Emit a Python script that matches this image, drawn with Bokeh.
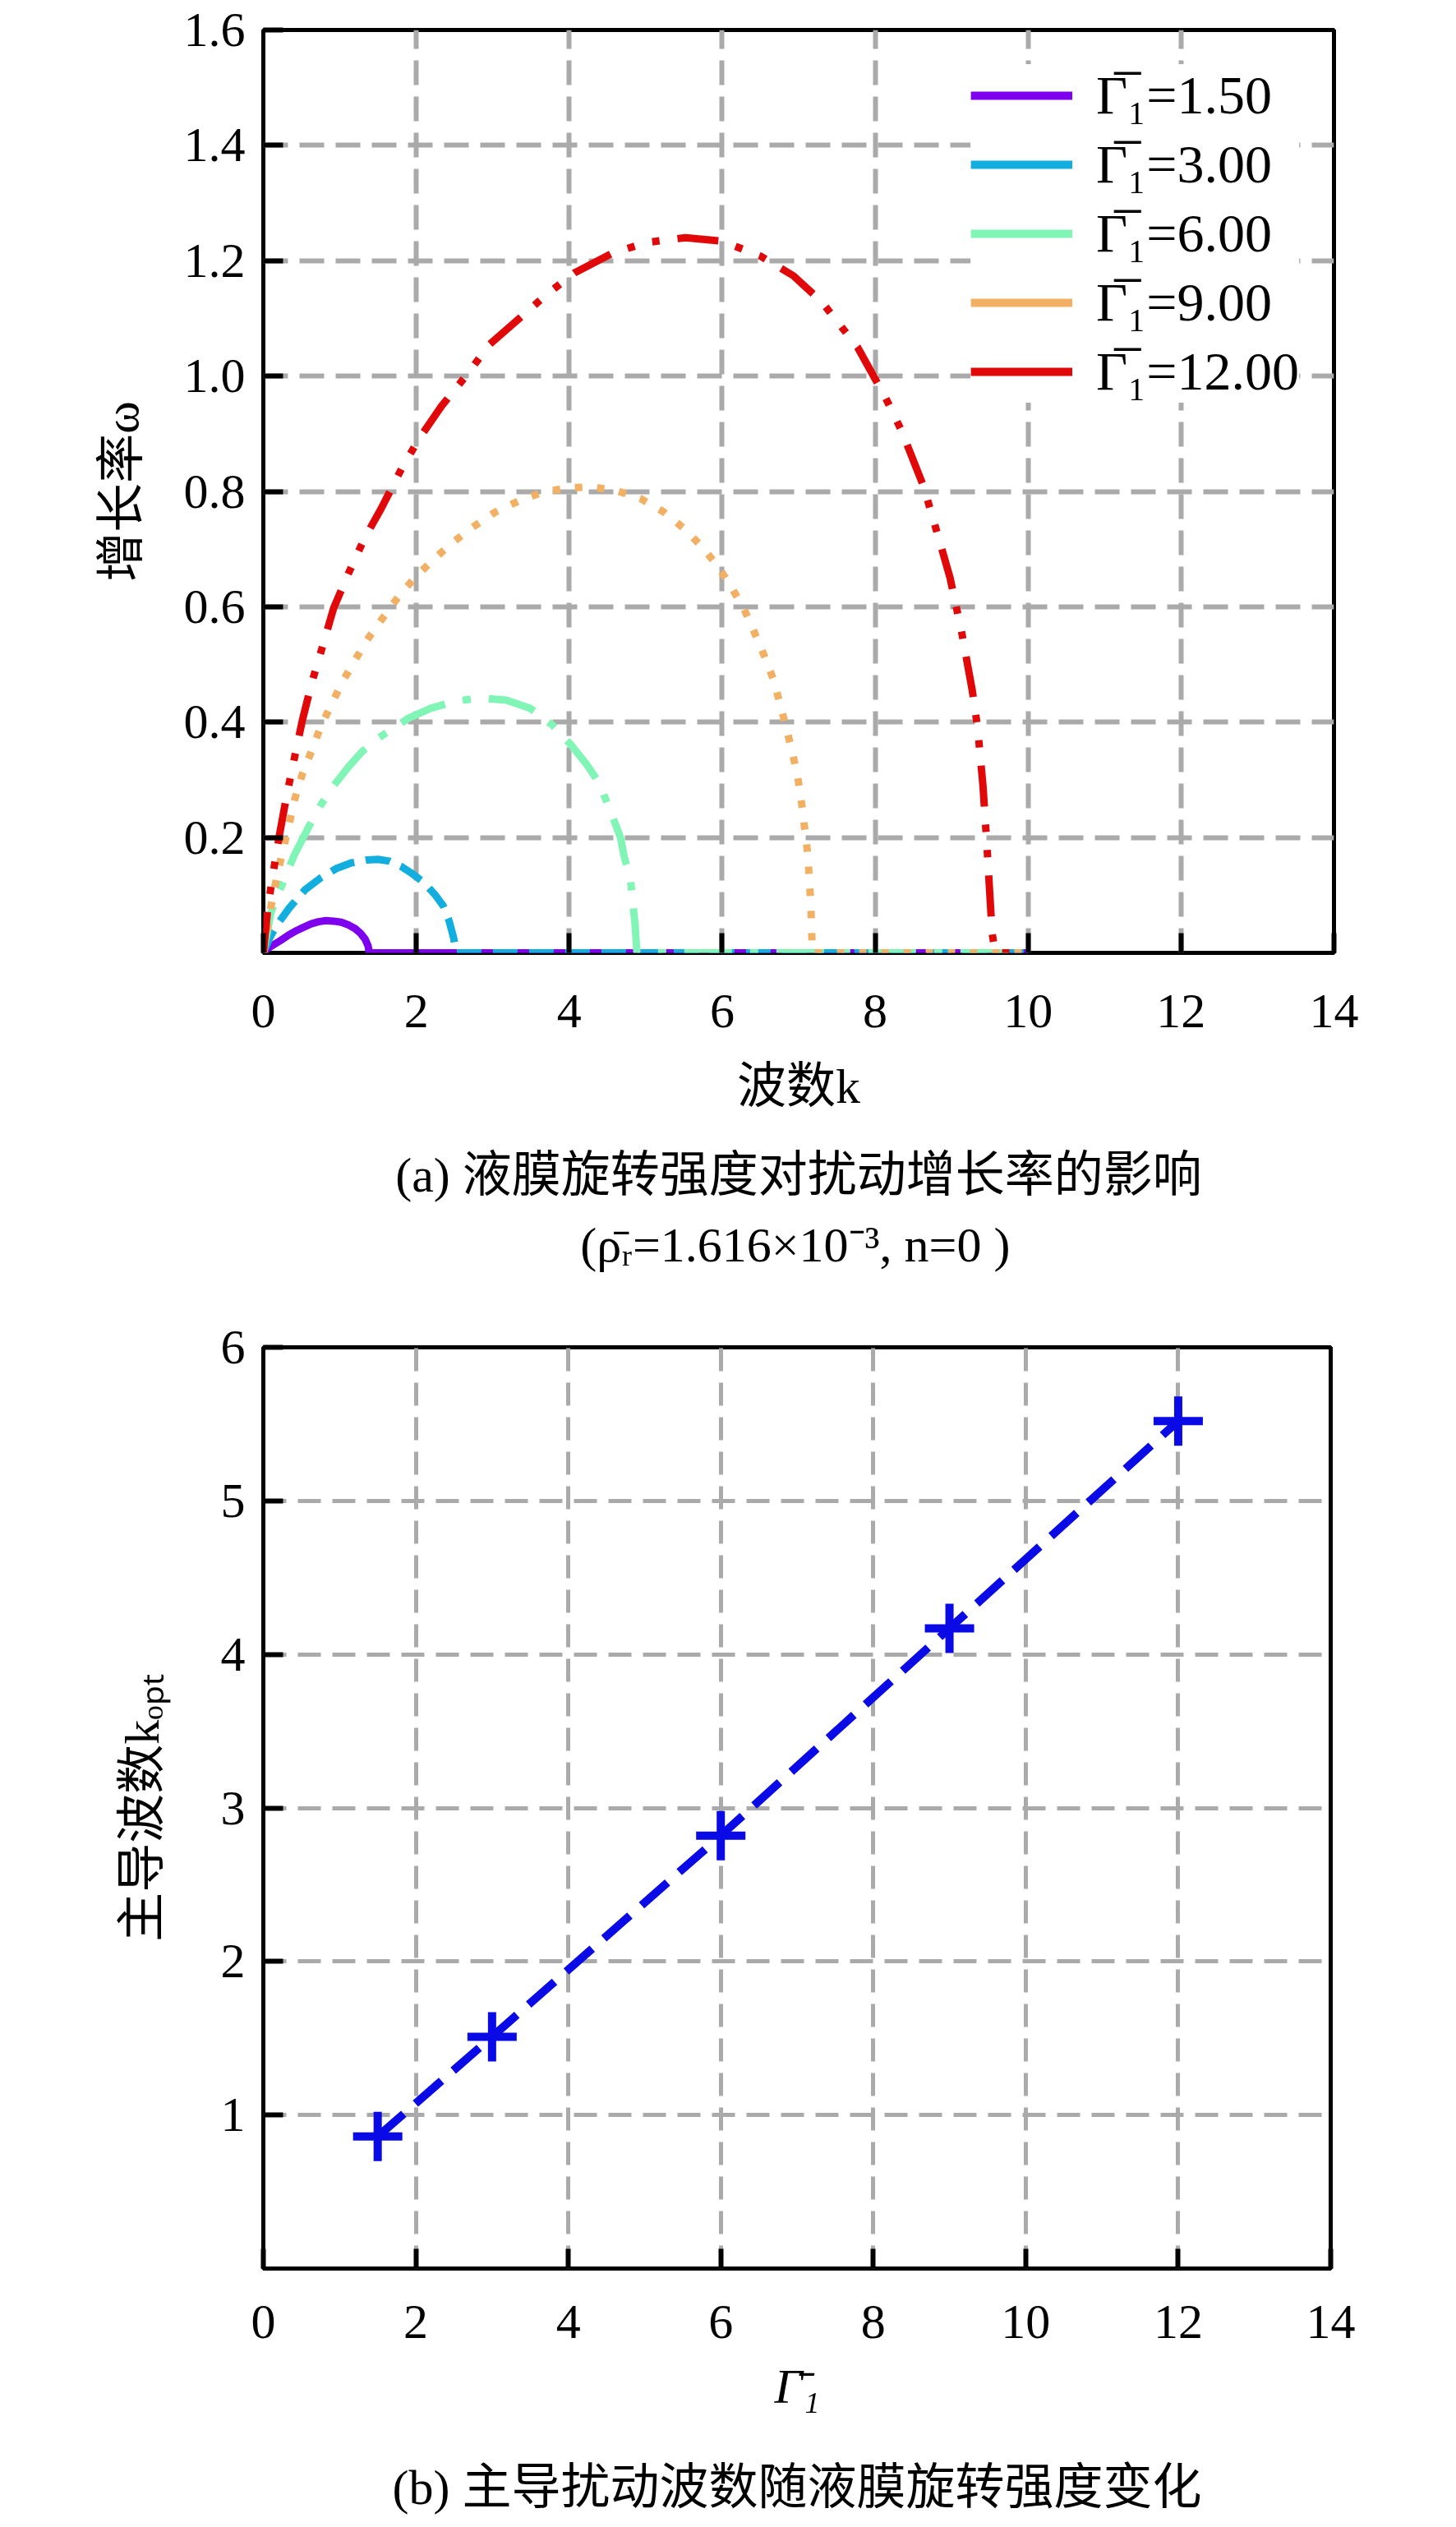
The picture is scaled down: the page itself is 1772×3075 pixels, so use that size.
from bokeh.plotting import figure
from bokeh.models import Range1d, FixedTicker, Legend, LegendItem, Title, NumeralTickFormatter
from bokeh.layouts import column
from bokeh.embed import file_html
from bokeh.resources import INLINE

# ---------------- data: (a) growth rate vs wavenumber ----------------
labels_a = ["Γ̅₁=1.50", "Γ̅₁=3.00", "Γ̅₁=6.00", "Γ̅₁=9.00", "Γ̅₁=12.00"]
colors_a = ["#7f00ee", "#12aee0", "#80f5b5", "#f2b064", "#e00808"]
dashes_a = ["solid", "30 14", "58 22 10 22", "9 18", "50 22 9 22 9 22"]

k_g150 = [0, 0.05, 0.12, 0.22, 0.32, 0.41, 0.52, 0.62, 0.72, 0.82, 0.92, 1.02, 1.12, 1.2, 1.27, 1.33, 1.37, 1.385, 10]
w_g150 = [0, 0.007, 0.013, 0.021, 0.030, 0.037, 0.044, 0.050, 0.054, 0.056, 0.055, 0.053, 0.048, 0.042, 0.034, 0.024, 0.012, 0, 0]

k_g300 = [0, 0.08, 0.17, 0.34, 0.55, 0.75, 0.95, 1.15, 1.35, 1.5, 1.65, 1.8, 1.95, 2.1, 2.25, 2.35, 2.43, 2.49, 2.52, 10]
w_g300 = [0, 0.025, 0.047, 0.078, 0.110, 0.130, 0.146, 0.156, 0.161, 0.162, 0.159, 0.150, 0.137, 0.122, 0.100, 0.082, 0.055, 0.025, 0, 0]

k_g600 = [0, 0.1, 0.29, 0.41, 0.6, 0.75, 0.92, 1.11, 1.3, 1.5, 1.66, 1.9, 2.19, 2.5, 2.82, 3.18, 3.49, 3.78, 4.02, 4.22, 4.39, 4.55, 4.67, 4.72, 4.80, 4.86, 4.885, 10]
w_g600 = [0, 0.07, 0.133, 0.171, 0.22, 0.256, 0.29, 0.322, 0.35, 0.372, 0.386, 0.407, 0.424, 0.436, 0.442, 0.438, 0.424, 0.395, 0.361, 0.328, 0.295, 0.242, 0.2, 0.166, 0.128, 0.05, 0, 0]

k_g900 = [0, 0.06, 0.12, 0.19, 0.26, 0.34, 0.41, 0.51, 0.63, 0.75, 0.89, 1.04, 1.2, 1.38, 1.58, 1.78, 2.0, 2.24, 2.48, 2.75,
          3.03, 3.33, 3.64, 3.97, 4.29, 4.63, 4.94, 5.23, 5.49, 5.73, 5.94, 6.12, 6.29, 6.42, 6.55, 6.67, 6.76, 6.84, 6.92, 6.99,
          7.04, 7.08, 7.12, 7.14, 7.16, 7.17, 7.18, 10]
w_g900 = [0, 0.05, 0.095, 0.14, 0.18, 0.225, 0.266, 0.31, 0.35, 0.392, 0.431, 0.471, 0.508, 0.547, 0.584, 0.62, 0.653, 0.684, 0.712, 0.739,
          0.764, 0.783, 0.798, 0.806, 0.808, 0.801, 0.787, 0.765, 0.737, 0.705, 0.671, 0.634, 0.595, 0.556, 0.515, 0.474, 0.43, 0.389, 0.346, 0.303,
          0.258, 0.214, 0.17, 0.126, 0.081, 0.037, 0, 0]

k_g1200 = [0, 0.06, 0.13, 0.21, 0.29, 0.37, 0.51, 0.63, 0.76, 0.92, 1.11, 1.32, 1.54, 1.81, 2.04, 2.33, 2.63, 2.96, 3.33, 3.70,
           4.07, 4.58, 5.03, 5.52, 6.0, 6.5, 6.93, 7.30, 7.77, 8.13, 8.35, 8.63, 8.84, 8.98, 9.13, 9.27, 9.34, 9.41, 9.46, 9.49,
           9.53, 9.57, 10]
w_g1200 = [0, 0.08, 0.14, 0.204, 0.262, 0.315, 0.403, 0.467, 0.525, 0.598, 0.657, 0.718, 0.77, 0.84, 0.892, 0.948, 0.997, 1.055, 1.098, 1.141,
           1.179, 1.214, 1.232, 1.24, 1.234, 1.208, 1.174, 1.129, 1.05, 0.964, 0.904, 0.81, 0.715, 0.65, 0.557, 0.455, 0.39, 0.29, 0.19, 0.123,
           0.034, 0, 0]

k_series = [k_g150, k_g300, k_g600, k_g900, k_g1200]
w_series = [w_g150, w_g300, w_g600, w_g900, w_g1200]

x_ticks_a = [0, 2, 4, 6, 8, 10, 12, 14]
y_ticks_a = [0.2, 0.4, 0.6, 0.8, 1.0, 1.2, 1.4, 1.6]

caption_a1 = "(a) 液膜旋转强度对扰动增长率的影响"
caption_a2 = "(ρ̄ᵣ=1.616×10⁻³, n=0 )"

# ---------------- data: (b) dominant wavenumber ----------------
gamma_b = [1.5, 3.0, 6.0, 9.0, 12.0]
kopt_b = [0.86, 1.51, 2.82, 4.17, 5.52]
x_ticks_b = [0, 2, 4, 6, 8, 10, 12, 14]
y_ticks_b = [1, 2, 3, 4, 5, 6]

caption_b = "(b) 主导扰动波数随液膜旋转强度变化"

MIX = "'Liberation Serif', 'Noto Sans CJK SC'"
NAN = float("nan")
BLUE = "#0a0ae6"
NBSP = "\u00a0"


def style(p, xt, yt, xlab, ylab, ylab_standoff, xlab_standoff, xtick_standoff, dash):
    p.outline_line_color = "black"
    p.outline_line_width = 5
    p.outline_line_alpha = 1
    p.xaxis.ticker = FixedTicker(ticks=xt)
    p.yaxis.ticker = FixedTicker(ticks=yt)
    for ax in (p.xaxis, p.yaxis):
        ax.axis_line_color = None
        ax.major_tick_in = 24
        ax.major_tick_out = 0
        ax.major_tick_line_width = 6
        ax.major_tick_line_color = "black"
        ax.minor_tick_line_color = None
        ax.major_label_text_font = "Liberation Serif"
        ax.major_label_text_font_size = "60px"
        ax.major_label_text_color = "black"
        ax.axis_label_text_font = MIX
        ax.axis_label_text_font_size = "60px"
        ax.axis_label_text_font_style = "normal"
        ax.axis_label_text_color = "black"
    p.xaxis.major_label_standoff = xtick_standoff
    p.yaxis.major_label_standoff = 22
    p.xaxis.axis_label = xlab
    p.yaxis.axis_label = ylab
    p.xaxis.axis_label_standoff = xlab_standoff
    p.yaxis.axis_label_standoff = ylab_standoff
    p.grid.grid_line_color = "#aaaaaa"
    p.grid.grid_line_width = 6
    p.grid.grid_line_dash = dash


def caption(text, standoff, lh):
    return Title(text=text, align="center", text_font=MIX, text_font_size="60px",
                 text_font_style="normal", text_color="black", standoff=standoff,
                 text_line_height=lh)


# ---------------- figure (a) ----------------
p1 = figure(frame_width=1303, frame_height=1123, x_range=Range1d(0, 14), y_range=Range1d(0, 1.6),
            output_backend="svg", toolbar_location=None,
            min_border_left=316, min_border_right=137, min_border_top=36, min_border_bottom=421)
style(p1, x_ticks_a, y_ticks_a, "波数k", "增长率ω", 40, 36, 51, "30 14")
p1.yaxis.formatter = NumeralTickFormatter(format="0.0")

for ks, ws, c, d in zip(k_series, w_series, colors_a, dashes_a):
    p1.line(ks, ws, line_color=c, line_width=9, line_dash=d, line_cap="butt", line_join="round")

items = []
for lab, c in zip(labels_a, colors_a):
    r = p1.line(x=[NAN], y=[NAN], line_color=c, line_width=10)
    items.append(LegendItem(label=lab, renderers=[r]))
legend = Legend(items=items, location="top_right", border_line_color=None,
                background_fill_color="white", background_fill_alpha=1,
                glyph_width=124, glyph_height=40, label_standoff=29,
                label_text_font="Liberation Serif", label_text_font_size="66px",
                label_text_color="black", spacing=8, padding=22, margin=42)
p1.add_layout(legend)

# second caption line is indented so that it sits centred under the first
p1.add_layout(caption(caption_a1 + "\n" + NBSP * 15 + caption_a2, 74, 1.3), "below")

# ---------------- figure (b) ----------------
p2 = figure(frame_width=1299, frame_height=1121, x_range=Range1d(0, 14), y_range=Range1d(0, 6),
            output_backend="svg", toolbar_location=None,
            min_border_left=320, min_border_right=137, min_border_top=54, min_border_bottom=296)
style(p2, x_ticks_b, y_ticks_b, "Γ̄₁", "主导波数kₒₚₜ", 60, 23, 45, "28 14")
p2.grid.grid_line_width = 5
p2.xaxis.axis_label_text_font_style = "italic"

p2.line(gamma_b, kopt_b, line_color=BLUE, line_width=10, line_dash="42 19")
p2.scatter(gamma_b, kopt_b, marker="cross", size=60, line_width=10, line_color=BLUE)

p2.add_layout(caption(caption_b, 104, 0.85), "below")

layout = column(p1, p2)
open("out.html", "w").write(file_html(layout, INLINE))
